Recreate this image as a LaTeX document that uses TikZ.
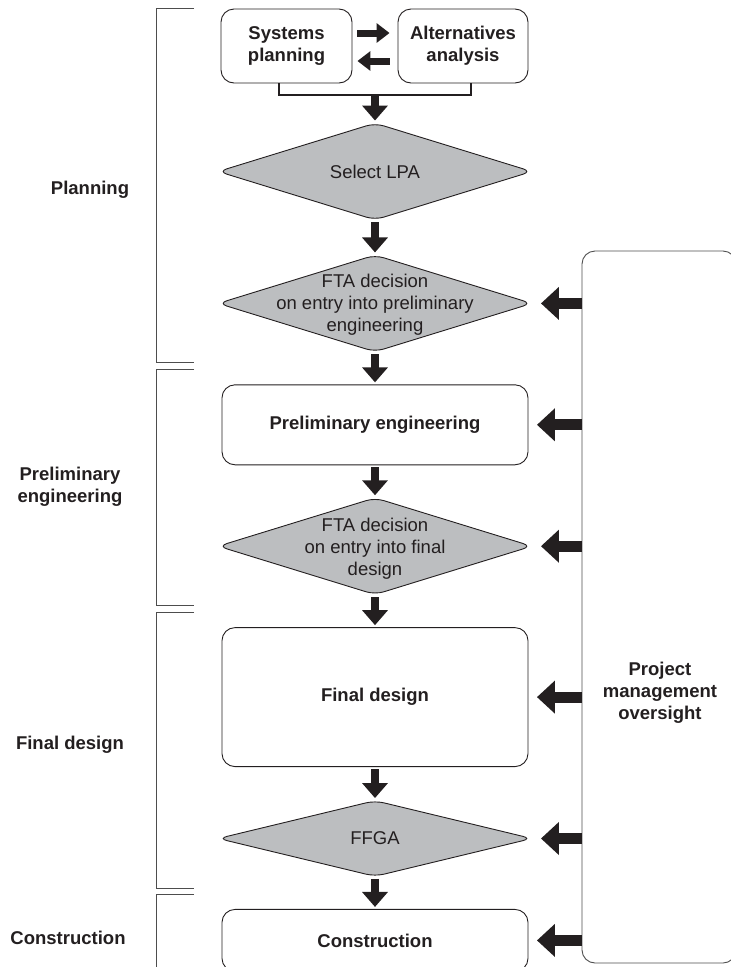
\documentclass[tikz,border=0pt]{standalone}
\usepackage{fontspec}
\setmainfont{Liberation Sans}
\usetikzlibrary{positioning,shapes.geometric,arrows.meta,calc}
\definecolor{fg_dark}{HTML}{231F20}
\definecolor{dec_grey}{HTML}{BCBEC0}
\definecolor{line_grey}{HTML}{4D4D4D}
\tikzset{
  pbox/.style={draw,rounded corners=13pt,line width=0.9pt,align=center,inner sep=0pt,
    font=\fontsize{18.5}{22}\selectfont\bfseries},
  dbox/.style={shape=diamond,draw,fill=dec_grey,rounded corners=9pt,line width=0.9pt,
    minimum width=314pt,minimum height=97pt,inner sep=0pt},
  dtext/.style={align=center,inner sep=0pt},
  lab/.style={align=center,inner sep=0pt,font=\fontsize{18.5}{22}\selectfont\bfseries}
}

\begin{document}
\begin{tikzpicture}[x=1pt,y=-1pt,color=fg_dark,font=\fontsize{18.5}{22}\selectfont,
darrow/.style={line width=8pt,-{Triangle[width=25pt,length=15pt]}},
sarrow/.style={line width=11pt,-{Triangle[width=32pt,length=18pt]}},
harrow/.style={line width=7pt,-{Triangle[width=19pt,length=13pt]}},
brk/.style={draw=line_grey,line width=0.9pt}]
\useasboundingbox (0,0) rectangle (731,967);
% phase brackets
\foreach \ya/\yb in {8/362,369/605,612/888}
  {\draw[brk] (194,\ya) -| (156,\yb) -- (194,\yb);}
\draw[brk] (194,894) -| (156,975);
\node[lab] (lplan) at (90,190) {Planning};
\node[lab] (lprel) at (70,487) {Preliminary\\engineering};
\node[lab] (lfin) at (70,745) {Final design};
\node[lab] (lcon) at (68,938) {Construction};
% top pair
\node[pbox,minimum width=131pt,minimum height=74pt] (sys) at (286.5,46) {Systems\\planning};
\node[pbox,minimum width=130pt,minimum height=74pt] (alt) at (463,46) {Alternatives\\analysis};
\draw[harrow] ([xshift=5pt,yshift=13pt]sys.east) -- ([xshift=-8pt,yshift=13pt]alt.west);
\draw[harrow] ([xshift=-8pt,yshift=-15pt]alt.west) -- ([xshift=5pt,yshift=-15pt]sys.east);
\coordinate (join) at (375,95);
\draw[line width=1.2pt] ([xshift=-7.5pt]sys.south) |- (join) -| ([xshift=8pt]alt.south);
% main column
\node[dbox] (lpa) at (375,171.5) {};
\node[dtext] (lpat) at (lpa) {Select LPA};
\node[dbox,below=34pt of lpa] (fta1) {};
\node[dtext] (fta1t) at ([yshift=-1pt]fta1) {FTA decision\\on entry into preliminary\\engineering};
\node[pbox,below=32pt of fta1,minimum width=306pt,minimum height=80pt] (prelim) {Preliminary engineering};
\node[dbox,below=32pt of prelim] (fta2) {};
\node[dtext] (fta2t) at ([yshift=-3pt]fta2) {FTA decision\\on entry into final\\design};
\node[pbox,below=32pt of fta2,minimum width=306pt,minimum height=139pt] (final) {Final design};
\node[dbox,below=33pt of final,minimum height=76pt] (ffga) {};
\node[dtext] (ffgat) at (ffga) {FFGA};
\node[pbox,below=32pt of ffga,minimum width=306pt,minimum height=62pt] (constr) {Construction};
\draw[darrow] (join) -- ([yshift=2pt]lpa.north);
\foreach \a/\b in {lpa/fta1,fta1/prelim,prelim/fta2,fta2/final,final/ffga,ffga/constr}
  \draw[darrow] ([yshift=-2pt]\a.south) -- ([yshift=2pt]\b.north);
% oversight
\node[draw=line_grey,line width=0.9pt,rounded corners=13pt,minimum width=154pt,
  minimum height=712pt] (pmo) at (659,607) {};
\node[lab] (pmot) at (660,693) {Project\\management\\oversight};
\foreach \n in {fta1,prelim,fta2,final,ffga,constr}
  \draw[sarrow] (pmo.west |- \n.east) -- ([xshift=8.5pt]\n.east);
\end{tikzpicture}
\end{document}
